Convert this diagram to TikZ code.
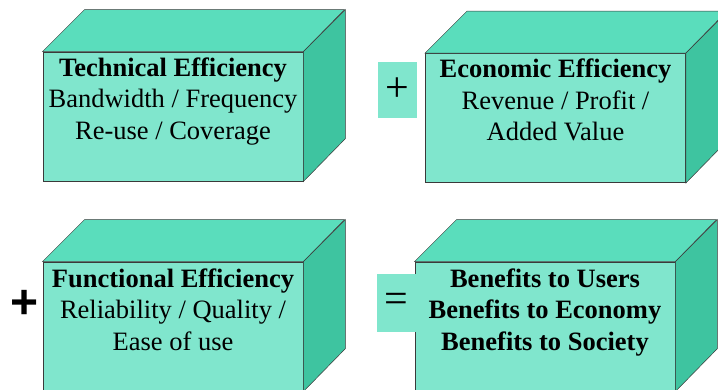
\documentclass[tikz,border=0pt]{standalone}
\usepackage{fontspec}
\setmainfont{Liberation Serif}
\newfontfamily\opfont{Liberation Sans}
\usetikzlibrary{positioning}

\definecolor{frontcol}{HTML}{80E6CD}
\definecolor{topcol}{HTML}{5ADDBC}
\definecolor{sidecol}{HTML}{3EC4A0}
\definecolor{edgecol}{HTML}{3A3A3A}

\tikzset{
    front/.style={draw=edgecol, fill=frontcol, line width=0.9pt, inner sep=0pt,
        minimum width=260pt, minimum height=129pt},
    topface/.style={draw=edgecol, fill=topcol, line width=0.5pt},
    sideface/.style={draw=edgecol, fill=sidecol, line width=0.5pt},
    boxtext/.style={align=center, inner sep=0pt, font=\fontsize{26.5}{31.5}\selectfont},
    opbox/.style={fill=frontcol, minimum width=39pt, inner sep=0pt,
        font=\fontsize{42}{42}\selectfont}
}

\begin{document}
\begin{tikzpicture}[x=1pt, y=-1pt]
    \useasboundingbox (0,0) rectangle (718,389);
    \clip (0,0) rectangle (718,389);

    % Front faces
    \node[front] (tech) at (173,116.5) {};
    \node[front] (econ) at (555.5,118) {};
    \node[front] (func) at (173,326.5) {};
    \node[front] (bene) at (545,326.5) {};

    % Top faces
    \draw[topface] (tech.north west) -- ++(42,-42) -- ++(260,0) -- (tech.north east) -- cycle;
    \draw[topface] (econ.north west) -- ++(42,-42) -- ++(260,0) -- (econ.north east) -- cycle;
    \draw[topface] (func.north west) -- ++(42,-42) -- ++(260,0) -- (func.north east) -- cycle;
    \draw[topface] (bene.north west) -- ++(42,-42) -- ++(260,0) -- (bene.north east) -- cycle;

    % Side faces
    \draw[sideface] (tech.north east) -- ++(42,-42) -- ++(0,129) -- (tech.south east) -- cycle;
    \draw[sideface] (econ.north east) -- ++(42,-42) -- ++(0,129) -- (econ.south east) -- cycle;
    \draw[sideface] (func.north east) -- ++(42,-42) -- ++(0,129) -- (func.south east) -- cycle;
    \draw[sideface] (bene.north east) -- ++(42,-42) -- ++(0,129) -- (bene.south east) -- cycle;

    % Box texts
    \node[boxtext, below=6pt of tech.north] (techtext)
        {\textbf{Technical Efficiency}\\Bandwidth / Frequency\\Re-use / Coverage};
    \node[boxtext, below=6pt of econ.north] (econtext)
        {\textbf{Economic Efficiency}\\Revenue / Profit /\\Added Value};
    \node[boxtext, below=7pt of func.north] (functext)
        {\textbf{Functional Efficiency}\\Reliability / Quality /\\Ease of use};
    \node[boxtext, below=7pt of bene.north, font=\fontsize{26.5}{31.5}\selectfont\bfseries] (benetext)
        {Benefits to Users\\Benefits to Economy\\Benefits to Society};

    % Operators
    \node[opbox, minimum height=56pt] (plusbox) at (397.5,90) {+};
    \node[opbox, minimum height=58pt] (eqbox) at (396.5,303) {=};
    \node[font=\fontsize{48}{48}\selectfont\opfont\bfseries] (plus) at (25,304) {+};
\end{tikzpicture}
\end{document}
